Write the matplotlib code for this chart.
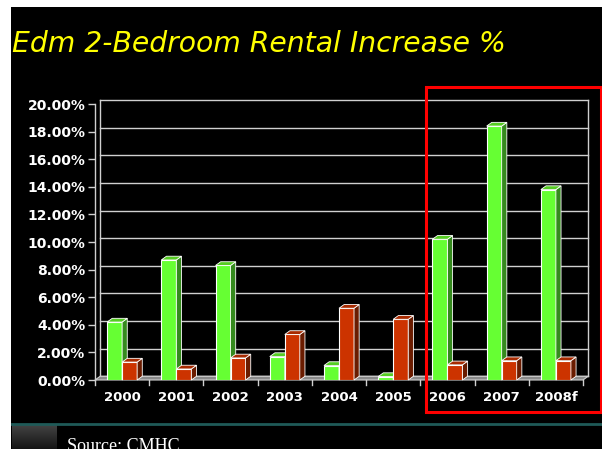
import matplotlib
matplotlib.use("Agg")
import matplotlib.pyplot as plt
import numpy as np
from matplotlib.patches import Polygon, Rectangle

# ---- data ----
years = ["2000", "2001", "2002", "2003", "2004", "2005", "2006", "2007", "2008f"]
green_vals = [4.2, 8.7, 8.3, 1.7, 1.05, 0.25, 10.2, 18.4, 13.8]
red_vals = [1.3, 0.8, 1.6, 3.3, 5.2, 4.4, 1.1, 1.4, 1.4]
yticks = [0, 2, 4, 6, 8, 10, 12, 14, 16, 18, 20]
ytick_labels = ["%.2f%%" % v for v in yticks]
title = "Edm 2-Bedroom Rental Increase %"
source = "Source: CMHC"

W, H = 602, 449
fig = plt.figure(figsize=(W / 100, H / 100), dpi=100, facecolor="black")

def fx(px):
    return px / W

def fy(py):
    return 1 - py / H

# white margins (left and top)
fig.patches.append(Rectangle((0, 0), fx(11), 1, transform=fig.transFigure,
                             facecolor="white", edgecolor="none", zorder=-5))
fig.patches.append(Rectangle((0, fy(7)), 1, 1 - fy(7), transform=fig.transFigure,
                             facecolor="white", edgecolor="none", zorder=-5))

# title
fig.text(fx(12), fy(52), title, color="#FFFF00", fontsize=20.3, style="italic",
         family="DejaVu Sans", va="baseline", ha="left")

# main axes (front frame)
ax = fig.add_axes([fx(95), fy(380), fx(583) - fx(95), fy(104) - fy(380)])
ax.set_facecolor("none")
ax.set_xlim(-0.5, len(years) - 0.5)
ax.set_ylim(0, 20)
for s in ax.spines.values():
    s.set_visible(False)

dx = 0.095   # depth in category units
dy = 0.27    # depth in % units
n = len(years)

# back wall gridlines
for v in yticks:
    ax.plot([-0.5 + dx, n - 0.5 + dx], [v + dy, v + dy], color="#d0d0d0", lw=1.0,
            clip_on=False, zorder=1)
ax.plot([-0.5 + dx, -0.5 + dx], [dy, 20 + dy], color="#d0d0d0", lw=1, clip_on=False, zorder=1)
ax.plot([n - 0.5 + dx, n - 0.5 + dx], [dy, 20 + dy], color="#d0d0d0", lw=1, clip_on=False, zorder=1)
ax.plot([-0.5, -0.5], [0, 20], color="#d0d0d0", lw=1, clip_on=False, zorder=1)
ax.add_patch(Polygon([[-0.5, 0], [n - 0.5, 0], [n - 0.5 + dx, dy], [-0.5 + dx, dy]],
                     closed=True, facecolor="#8a8a8a", edgecolor="#cfcfcf", lw=0.8,
                     clip_on=False, zorder=2))

bw = 0.277

def bar3d(x0, h, front, side, top, z):
    ax.bar(x0, h, width=bw, align="edge", color=front, edgecolor="white", lw=0.8, zorder=z)
    ax.add_patch(Polygon([[x0 + bw, 0], [x0 + bw + dx, dy], [x0 + bw + dx, h + dy], [x0 + bw, h]],
                         closed=True, facecolor=side, edgecolor="white", lw=0.6, zorder=z,
                         clip_on=False))
    ax.add_patch(Polygon([[x0, h], [x0 + bw, h], [x0 + bw + dx, h + dy], [x0 + dx, h + dy]],
                         closed=True, facecolor=top, edgecolor="white", lw=0.6, zorder=z,
                         clip_on=False))

for i in range(n):
    bar3d(i - bw, green_vals[i], "#66FF33", "#358A1E", "#55CC22", 3 + i * 2)
    bar3d(i, red_vals[i], "#CC3300", "#6A1C00", "#A82A00", 4 + i * 2)

ax.set_yticks(yticks)
ax.set_yticklabels(ytick_labels)
ax.set_xticks(range(n))
ax.set_xticklabels(years)
ax.tick_params(axis="y", colors="#d0d0d0", labelcolor="white", length=5, width=1, pad=2,
               labelsize=10)
ax.tick_params(axis="x", length=0, labelcolor="white", labelsize=9.5, pad=8)
for lab in ax.get_yticklabels() + ax.get_xticklabels():
    lab.set_fontweight("bold")
for b in np.arange(-0.5, n, 1.0):
    ax.plot([b, b], [0, -0.35], color="#d0d0d0", lw=1, clip_on=False, zorder=2)

# red highlight rectangle
fig.patches.append(Rectangle((fx(426), fy(412)), fx(601) - fx(426), fy(87) - fy(412),
                             transform=fig.transFigure, facecolor="none", edgecolor="#FF0000",
                             lw=2.2, zorder=10))

# bottom teal line
fig.add_artist(plt.Line2D([fx(12), 1], [fy(423.5), fy(423.5)], transform=fig.transFigure,
                          color="#1F5A58", lw=2))

# gray gradient box
gax = fig.add_axes([fx(12), 0, fx(57) - fx(12), fy(425)])
grad = np.linspace(0.27, 0.08, 50).reshape(-1, 1)
gax.imshow(np.repeat(grad, 5, axis=1), cmap="gray", vmin=0, vmax=1, aspect="auto")
gax.axis("off")

fig.text(fx(67), fy(451), source, color="white", fontsize=13, family="Liberation Serif",
         va="baseline", ha="left")

fig.savefig("out.png", dpi=100, facecolor="black")
